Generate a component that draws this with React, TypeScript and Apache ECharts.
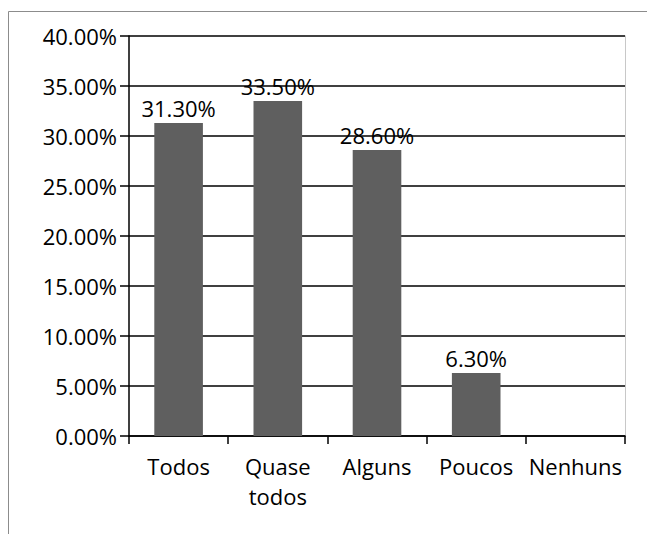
import React, { useEffect, useRef } from "react";
import * as echarts from "echarts";

const categories: string[] = ["Todos", "Quase\ntodos", "Alguns", "Poucos", "Nenhuns"];
const values: number[] = [31.3, 33.5, 28.6, 6.3, 0];
const yMin = 0;
const yMax = 40;
const yStep = 5;

const FONT = "'Open Sans', 'Noto Sans', sans-serif";

export default function App() {
  const ref = useRef<HTMLDivElement>(null);
  useEffect(() => {
    if (!ref.current) return;
    const chart = echarts.init(ref.current, null, { renderer: "svg" });
    chart.setOption({
      animation: false,
      backgroundColor: "#ffffff",
      graphic: [
        {
          type: "rect",
          shape: { x: 8.5, y: 11.5, width: 700, height: 600 },
          style: { fill: "none", stroke: "#8c8c8c", lineWidth: 1 },
          silent: true,
        },
      ],
      grid: { left: 129, right: 22, top: 36, bottom: 98, containLabel: false },
      xAxis: {
        type: "category",
        data: categories,
        axisLine: { show: true, lineStyle: { color: "#000", width: 1.5 } },
        axisTick: { show: true, length: 8, alignWithLabel: false, lineStyle: { color: "#000", width: 1.5 } },
        axisLabel: {
          color: "#000",
          fontSize: 22,
          fontFamily: FONT,
          margin: 15,
          lineHeight: 30,
          interval: 0,
        },
      },
      yAxis: [
        {
          type: "value",
          min: yMin,
          max: yMax,
          interval: yStep,
          axisLine: { show: true, lineStyle: { color: "#000", width: 1.5 } },
          axisTick: { show: true, length: 9, lineStyle: { color: "#000", width: 1.5 } },
          splitLine: { show: true, lineStyle: { color: "#000", width: 1.5 } },
          axisLabel: {
            color: "#000",
            fontSize: 22,
            fontFamily: FONT,
            margin: 12,
            formatter: (v: number) => v.toFixed(2) + "%",
          },
        },
        {
          type: "value",
          position: "right",
          min: yMin,
          max: yMax,
          interval: yStep,
          axisLine: { show: true, lineStyle: { color: "#c8c8c8", width: 1 } },
          axisTick: { show: false },
          axisLabel: { show: false },
          splitLine: { show: false },
        },
      ],
      series: [
        {
          type: "bar",
          data: values.map((v) => (v === 0 ? null : v)),
          barWidth: "49%",
          itemStyle: { color: "#5f5f5f" },
          label: {
            show: true,
            position: "top",
            distance: 4,
            color: "#000",
            fontSize: 22,
            fontFamily: FONT,
            formatter: (p: any) => Number(p.value).toFixed(2) + "%",
          },
        },
      ],
    });
    return () => chart.dispose();
  }, []);
  return <div ref={ref} style={{ width: 647, height: 534, position: "absolute", left: 0, top: 0 }} />;
}
